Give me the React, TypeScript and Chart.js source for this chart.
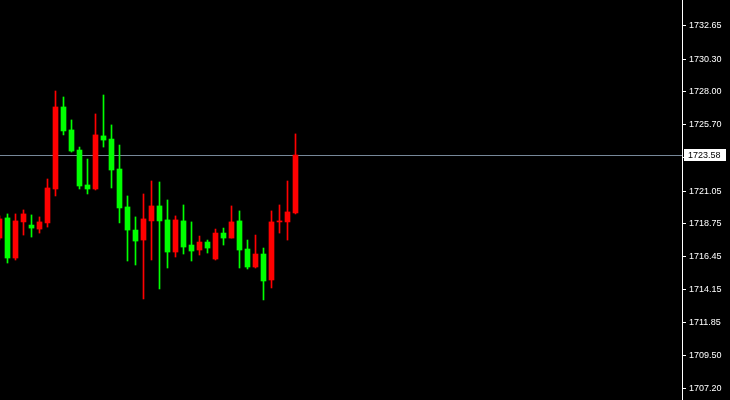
import React, { useEffect, useRef } from 'react';
import { Chart, registerables } from 'chart.js';

Chart.register(...registerables);

// OHLC candles (oldest -> newest)
const opens = [
  1717.76, 1719.17, 1716.36, 1718.89, 1718.67, 1718.39, 1718.82, 1721.2, 1726.95, 1725.34,
  1723.93, 1721.48, 1721.2, 1724.92, 1724.7, 1722.6, 1719.94, 1718.32, 1717.62, 1718.96,
  1720.01, 1719.03, 1716.78, 1718.96, 1717.27, 1716.92, 1717.48, 1716.29, 1718.11, 1717.76,
  1718.96, 1716.99, 1715.73, 1716.64, 1714.82, 1718.89, 1718.89, 1719.52,
];
const highs = [
  1719.31, 1719.45, 1719.45, 1719.73, 1719.38, 1719.24, 1721.9, 1728.07, 1727.65, 1726.04,
  1724.14, 1723.3, 1726.46, 1727.79, 1725.69, 1724.28, 1720.71, 1719.24, 1720.85, 1721.76,
  1721.69, 1720.43, 1719.31, 1720.08, 1718.89, 1717.9, 1717.62, 1718.39, 1718.46, 1720.01,
  1719.66, 1717.62, 1717.97, 1717.06, 1719.66, 1720.08, 1721.76, 1725.06,
];
const lows = [
  1717.62, 1716.01, 1716.22, 1717.97, 1717.83, 1718.11, 1718.53, 1720.71, 1724.99, 1723.79,
  1721.2, 1720.85, 1721.13, 1724.14, 1721.27, 1718.82, 1716.15, 1715.87, 1713.49, 1716.22,
  1714.19, 1715.66, 1716.43, 1716.64, 1716.15, 1716.57, 1716.71, 1716.22, 1717.27, 1717.76,
  1715.66, 1715.59, 1715.66, 1713.42, 1714.26, 1718.11, 1717.62, 1719.45,
];
const closes = [
  1719.1, 1716.36, 1718.96, 1719.45, 1718.46, 1718.89, 1721.27, 1726.95, 1725.27, 1723.86,
  1721.41, 1721.2, 1724.99, 1724.63, 1722.53, 1719.87, 1718.32, 1717.55, 1719.1, 1720.01,
  1718.96, 1716.78, 1719.03, 1717.13, 1716.85, 1717.48, 1717.06, 1718.11, 1717.76, 1718.89,
  1716.92, 1715.73, 1716.64, 1714.75, 1718.89, 1718.96, 1719.59, 1723.58,
];

const priceTicks = [
  1707.2, 1709.5, 1711.85, 1714.15, 1716.45, 1718.75, 1721.05, 1723.4, 1725.7, 1728.0,
  1730.3, 1732.65,
];
const currentPrice = 1723.58;

const FONT_FAMILY = "'Liberation Sans', Arial, sans-serif";
const AXIS_FONT = `9px ${FONT_FAMILY}`;

export default function App() {
  const ref = useRef<HTMLCanvasElement>(null);

  useEffect(() => {
    if (!ref.current) return;
    const colors = opens.map((o, i) => (closes[i] >= o ? '#ff0000' : '#00ff00'));

    const priceLine = {
      id: 'priceLine',
      beforeDatasetsDraw(chart: any) {
        const { ctx, chartArea, scales } = chart;
        const y = Math.round(scales.y.getPixelForValue(currentPrice)) + 0.5;
        ctx.save();
        ctx.strokeStyle = '#778899';
        ctx.lineWidth = 1;
        ctx.beginPath();
        ctx.moveTo(chartArea.left, y);
        ctx.lineTo(chartArea.right, y);
        ctx.stroke();
        ctx.restore();
      },
      afterDraw(chart: any) {
        const { ctx, chartArea, scales } = chart;
        const y = Math.round(scales.y.getPixelForValue(currentPrice));
        ctx.save();
        ctx.fillStyle = '#ffffff';
        ctx.fillRect(chartArea.right + 2, y - 6, 42, 12);
        ctx.fillStyle = '#000000';
        ctx.font = AXIS_FONT;
        ctx.textBaseline = 'middle';
        ctx.textAlign = 'left';
        ctx.fillText(currentPrice.toFixed(2), chartArea.right + 6, y + 1);
        ctx.restore();
      },
    };

    const chart = new Chart(ref.current, {
      type: 'bar',
      data: {
        datasets: [
          {
            label: 'body',
            data: opens.map((o, i) => ({ x: i, y: [o, closes[i]] })) as any,
            backgroundColor: colors,
            barThickness: 5,
            grouped: false,
            borderWidth: 0,
          } as any,
          {
            label: 'wick',
            data: lows.map((l, i) => ({ x: i, y: [l, highs[i]] })) as any,
            backgroundColor: colors,
            barThickness: 1,
            grouped: false,
            borderWidth: 0,
          } as any,
        ],
      },
      options: {
        responsive: false,
        animation: false,
        devicePixelRatio: 1,
        layout: { padding: 0 },
        plugins: { legend: { display: false }, tooltip: { enabled: false } },
        scales: {
          x: {
            type: 'linear',
            display: false,
            offset: false,
            min: 0.0625,
            max: 85.3125,
          },
          y: {
            position: 'right',
            min: 1706.405,
            max: 1734.45,
            afterBuildTicks: (s: any) => {
              s.ticks = priceTicks.map((v) => ({ value: v }));
            },
            afterFit: (s: any) => {
              s.width = 48;
              s.paddingTop = 0;
              s.paddingBottom = 0;
            },
            grid: {
              display: true,
              drawOnChartArea: false,
              drawTicks: true,
              tickLength: 4,
              color: '#ffffff',
            },
            border: { display: true, color: '#ffffff', width: 1 },
            ticks: {
              autoSkip: false,
              padding: 3,
              color: '#ffffff',
              font: { family: FONT_FAMILY, size: 9 },
              callback: (v: any) => Number(v).toFixed(2),
            },
          } as any,
        },
      },
      plugins: [priceLine],
    });
    return () => chart.destroy();
  }, []);

  return (
    <canvas
      ref={ref}
      width={730}
      height={400}
      style={{ position: 'fixed', left: 0, top: 0, width: 730, height: 400, background: '#000000' }}
    />
  );
}
